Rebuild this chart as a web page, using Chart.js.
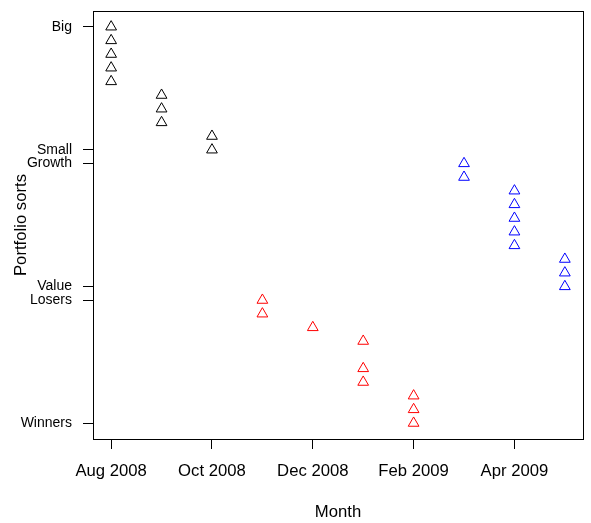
<!DOCTYPE html>
<html>
<head>
<meta charset="utf-8">
<script src="https://cdn.jsdelivr.net/npm/chart.js@4/dist/chart.umd.min.js"></script>
<style>
  html, body { margin: 0; padding: 0; background: #fff; }
  #wrap { width: 591px; height: 523px; }
</style>
</head>
<body>
<div id="wrap"><canvas id="c" width="591" height="523"></canvas></div>
<script>
// Month categories (index = position on x axis)
const months = ['Aug 2008', 'Sep 2008', 'Oct 2008', 'Nov 2008', 'Dec 2008',
                'Jan 2009', 'Feb 2009', 'Mar 2009', 'Apr 2009', 'May 2009'];
const xTickIdx = [0, 2, 4, 6, 8];

// Portfolio sort ranks and labels
const yTickVals = [1, 10, 11, 20, 21, 30];
const yTickLabels = ['Winners', 'Losers', 'Value', 'Growth', 'Small', 'Big'];

// Size sorts (black)
const sizeMonth = [0, 0, 0, 0, 0, 1, 1, 1, 2, 2];
const sizeRank  = [30, 29, 28, 27, 26, 25, 24, 23, 22, 21];
// Value/Growth sorts (blue)
const valueMonth = [7, 7, 8, 8, 8, 8, 8, 9, 9, 9];
const valueRank  = [20, 19, 18, 17, 16, 15, 14, 13, 12, 11];
// Momentum sorts (red)
const momMonth = [3, 3, 4, 5, 5, 5, 6, 6, 6];
const momRank  = [10, 9, 8, 7, 5, 4, 3, 2, 1];

const toPts = (xs, ys) => xs.map((x, i) => ({ x: x, y: ys[i] }));
const FONT = '"Liberation Sans", Arial, Helvetica, sans-serif';

const ds = (xs, ys, col) => ({
  data: toPts(xs, ys),
  pointStyle: 'triangle',
  pointRadius: 6.2,
  pointHoverRadius: 6.2,
  borderColor: col,
  backgroundColor: 'rgba(0,0,0,0)',
  pointBorderWidth: 1,
  showLine: false
});

const boxPlugin = {
  id: 'box',
  afterDraw(chart) {
    const a = chart.chartArea, ctx = chart.ctx;
    ctx.save();
    ctx.strokeStyle = '#000';
    ctx.lineWidth = 1;
    ctx.strokeRect(Math.round(a.left) + 0.5, Math.round(a.top) + 0.5,
                   Math.round(a.right - a.left), Math.round(a.bottom - a.top));
    ctx.restore();
  }
};

new Chart(document.getElementById('c'), {
  type: 'scatter',
  data: {
    datasets: [
      ds(sizeMonth, sizeRank, '#000000'),
      ds(valueMonth, valueRank, '#0000ff'),
      ds(momMonth, momRank, '#ff0000')
    ]
  },
  options: {
    responsive: false,
    animation: false,
    layout: { autoPadding: false, padding: { left: 0, top: 11, right: 8, bottom: 0 } },
    plugins: { legend: { display: false }, tooltip: { enabled: false } },
    scales: {
      x: {
        type: 'linear',
        min: -0.36, max: 9.36,
        afterBuildTicks: s => { s.ticks = xTickIdx.map(v => ({ value: v })); },
        afterFit: s => { s.height = 84; s.paddingLeft = 0; s.paddingRight = 0; },
        ticks: {
          autoSkip: false, maxRotation: 0, minRotation: 0,
          color: '#000', padding: 12,
          font: { family: FONT, size: 16.7 },
          callback: v => months[v]
        },
        grid: { drawOnChartArea: false, drawTicks: true, tickLength: 10, color: '#000', lineWidth: 1 },
        border: { display: false },
        title: { display: true, text: 'Month', color: '#000',
                 font: { family: FONT, size: 16.7 }, padding: { top: 0, bottom: 1 } }
      },
      y: {
        type: 'linear',
        min: -0.16, max: 31.16,
        afterBuildTicks: s => { s.ticks = yTickVals.map(v => ({ value: v })); },
        afterFit: s => { s.width = 93; s.paddingTop = 0; s.paddingBottom = 0; },
        ticks: {
          autoSkip: false, color: '#000', padding: 11,
          font: { family: FONT, size: 14 },
          callback: v => yTickLabels[yTickVals.indexOf(v)]
        },
        grid: { drawOnChartArea: false, drawTicks: true, tickLength: 10, color: '#000', lineWidth: 1 },
        border: { display: false },
        title: { display: true, text: 'Portfolio sorts', color: '#000',
                 font: { family: FONT, size: 16.7 }, padding: { top: 11, bottom: 0 } }
      }
    }
  },
  plugins: [boxPlugin]
});
</script>
</body>
</html>
